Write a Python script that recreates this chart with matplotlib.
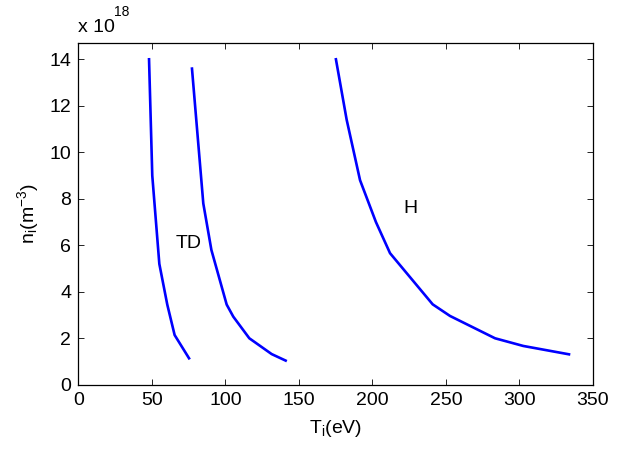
import numpy as np
import matplotlib
matplotlib.use("Agg")
import matplotlib.pyplot as plt

plt.rcParams['font.family'] = ['Liberation Sans', 'DejaVu Sans']
plt.rcParams['mathtext.default'] = 'regular'

# ion density in units of 1e18 m^-3 vs ion temperature (eV)
T_left = [48.1, 50.3, 55.1, 60.5, 65.5, 75.3]
n_left = [14.0, 9.0, 5.2, 3.45, 2.14, 1.14]

T_td = [77.3, 85.0, 90.5, 100.9, 105.4, 116.3, 131.5, 141.0]
n_td = [13.6, 7.8, 5.8, 3.45, 2.93, 2.0, 1.32, 1.04]

T_h = [175.2, 182.5, 191.6, 202.4, 212.0, 241.0, 252.8, 283.4, 302.6, 333.7]
n_h = [14.0, 11.4, 8.8, 7.0, 5.66, 3.46, 2.96, 2.0, 1.67, 1.31]

fig = plt.figure(figsize=(6.29, 4.53), dpi=100)
ax = fig.add_axes([0.1245, 0.1506, 0.8182, 0.7539])

for T, n in [(T_left, n_left), (T_td, n_td), (T_h, n_h)]:
    ax.plot(T, n, color='#0000ff', lw=1.9)

ax.text(74.8, 6.06, 'TD', fontsize=14, ha='center', va='center')
ax.text(226, 7.59, 'H', fontsize=14, ha='center', va='center')

ax.set_xlim(0, 350)
ax.set_ylim(0, 14.69)
ax.set_xticks(np.arange(0, 351, 50))
ax.set_yticks(np.arange(0, 15, 2))
ax.tick_params(direction='in', top=True, right=True, labelsize=14, length=4, width=0.6, pad=5)
for s in ax.spines.values():
    s.set_linewidth(0.9)

ax.set_xlabel('T$_i$(eV)', fontsize=14, labelpad=7)
ax.set_ylabel('n$_i$(m$^{-3}$)', fontsize=14, labelpad=6)
ax.text(0.0, 1.02, 'x 10', transform=ax.transAxes, fontsize=14, ha='left', va='bottom')
ax.text(0.07, 1.07, '18', transform=ax.transAxes, fontsize=10, ha='left', va='bottom')

fig.savefig('out.png', dpi=100)
